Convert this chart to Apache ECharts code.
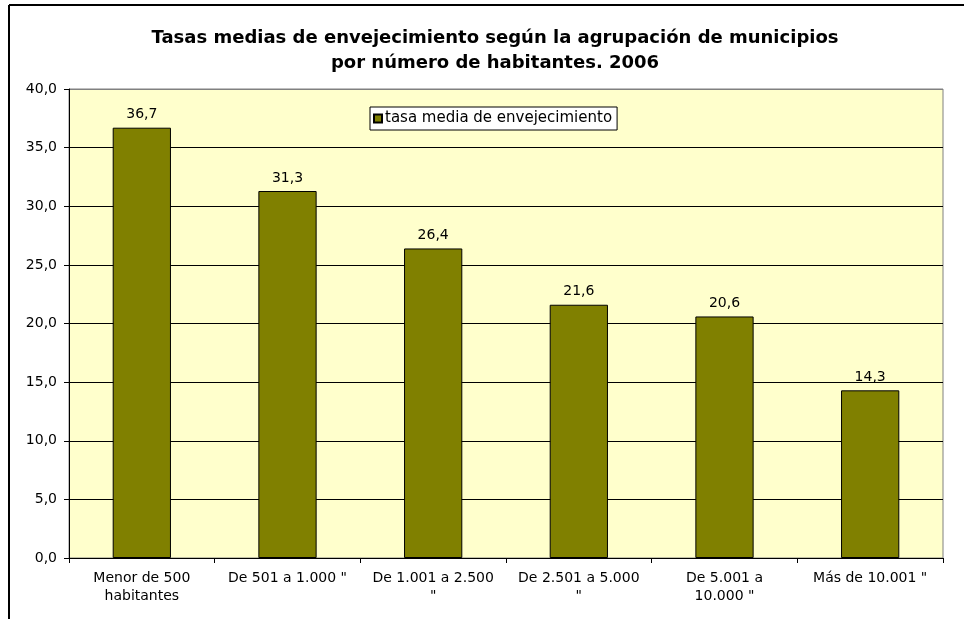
<!DOCTYPE html>
<html>
<head>
<meta charset="utf-8">
<script src="https://cdn.jsdelivr.net/npm/echarts@6/dist/echarts.min.js"></script>
<style>
  html, body { margin: 0; padding: 0; background: #fff; }
  #chart { width: 964px; height: 619px; }
</style>
</head>
<body>
<div id="chart"></div>
<script>
// categorías (eje X)
var categories = [
  'Menor de 500\nhabitantes',
  'De 501 a 1.000 "',
  'De 1.001 a 2.500\n"',
  'De 2.501 a 5.000\n"',
  'De 5.001 a\n10.000 "',
  'Más de 10.001 "'
];
// tasa media de envejecimiento
var tasas = [36.7, 31.3, 26.4, 21.6, 20.6, 14.3];
var seriesName = 'tasa media de envejecimiento';

var fmt = function (v) { return Number(v).toFixed(1).replace('.', ','); };

var chart = echarts.init(document.getElementById('chart'));
chart.setOption({
  animation: false,
  backgroundColor: '#fff',
  textStyle: { fontFamily: 'DejaVu Sans' },
  title: {
    text: 'Tasas medias de envejecimiento según la agrupación de municipios\npor número de habitantes. 2006',
    left: 490,
    top: 21,
    textAlign: 'center',
    textStyle: { fontFamily: 'DejaVu Sans', fontWeight: 'bold', fontSize: 18, lineHeight: 25, color: '#000' }
  },
  legend: {
    left: 370,
    top: 107,
    padding: [4, 5, 4, 3],
    backgroundColor: '#fff',
    borderColor: '#000',
    borderWidth: 1,
    borderRadius: 0,
    itemWidth: 8,
    itemHeight: 8,
    icon: 'rect',
    textStyle: { fontSize: 15, color: '#000', padding: [0, 0, 0, -2] },
    data: [seriesName]
  },
  grid: {
    left: 69, right: 21, top: 89, bottom: 61,
    show: true,
    backgroundColor: '#FFFFCC',
    borderColor: '#808080',
    borderWidth: 1
  },
  xAxis: {
    type: 'category',
    data: categories,
    axisLine: { lineStyle: { color: '#000', width: 1 } },
    axisTick: { show: true, length: 5, lineStyle: { color: '#000' } },
    axisLabel: { color: '#000', fontSize: 14, lineHeight: 18, margin: 11, interval: 0 }
  },
  yAxis: {
    type: 'value',
    min: 0, max: 40, interval: 5,
    axisLine: { show: true, lineStyle: { color: '#000', width: 1 } },
    axisTick: { show: true, length: 5, lineStyle: { color: '#000' } },
    axisLabel: { color: '#000', fontSize: 14, margin: 12, formatter: fmt },
    splitLine: { show: true, lineStyle: { color: ['#000', '#000', '#000', '#000', '#000', '#000', '#000', '#000', '#808080'], width: 1 } }
  },
  series: [{
    name: seriesName,
    type: 'bar',
    data: tasas,
    barWidth: '40%',
    itemStyle: { color: '#808000', borderColor: '#000', borderWidth: 1 },
    label: { show: true, position: 'top', distance: 6, fontSize: 14, color: '#000', formatter: function (p) { return fmt(p.value); } }
  }],
  graphic: [
    { type: 'line', shape: { x1: 9, y1: 5, x2: 964, y2: 5 }, style: { stroke: '#000', lineWidth: 2 } },
    { type: 'line', shape: { x1: 9, y1: 5, x2: 9, y2: 619 }, style: { stroke: '#000', lineWidth: 2 } }
  ]
});
</script>
</body>
</html>
